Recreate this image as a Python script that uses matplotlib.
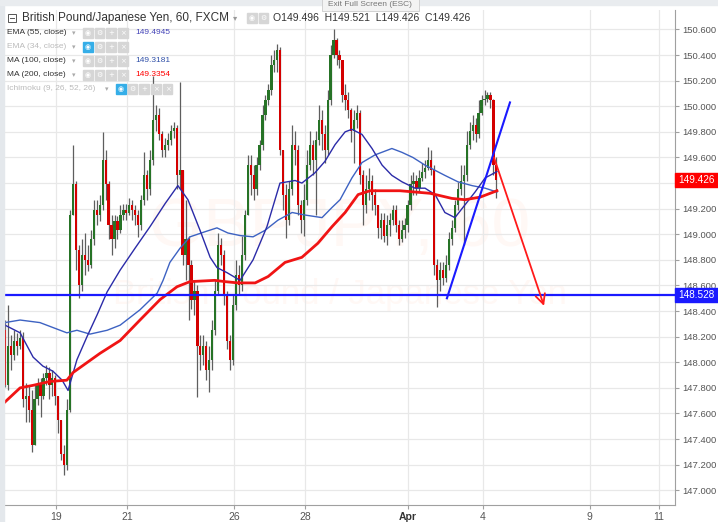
import numpy as np
import matplotlib
matplotlib.use('Agg')
from matplotlib import pyplot as plt
from matplotlib.patches import Rectangle
from matplotlib.transforms import blended_transform_factory

plt.rcParams['font.family'] = ['Liberation Sans', 'DejaVu Sans']

# GBPJPY, 2h candles (open of each bar = previous close)
open0 = 148.25
close = [
    147.82, 148.13, 148.06, 148.17, 148.13, 148.19, 147.71, 147.74, 147.63, 147.35,
    147.71, 147.82, 147.74, 147.88, 147.92, 147.82, 147.88, 147.74, 147.55, 147.28,
    147.20, 147.63, 149.15, 149.39, 148.88, 148.60, 148.84, 148.80, 148.76, 148.96,
    149.19, 149.15, 149.23, 149.58, 149.39, 149.07, 148.96, 149.10, 149.03, 149.15,
    149.19, 149.17, 149.23, 149.19, 149.15, 149.07, 149.27, 149.46, 149.35, 149.58,
    149.89, 149.93, 149.78, 149.66, 149.70, 149.74, 149.81, 149.83, 149.46, 149.50,
    148.84, 148.96, 148.76, 148.49, 148.56, 148.13, 148.06, 148.13, 147.94, 148.02,
    148.25, 148.56, 148.92, 148.84, 148.53, 148.17, 148.02, 148.45, 148.68, 148.60,
    148.84, 149.15, 149.54, 149.46, 149.35, 149.54, 149.70, 149.93, 150.05, 150.13,
    150.32, 150.36, 150.44, 149.66, 149.31, 149.11, 149.35, 149.70, 149.66, 149.23,
    149.11, 149.27, 149.54, 149.70, 149.58, 149.74, 149.89, 149.78, 149.66, 150.05,
    150.40, 150.52, 150.40, 150.36, 150.09, 150.05, 149.97, 149.81, 149.89, 149.95,
    149.46, 149.23, 149.35, 149.42, 149.31, 149.23, 149.05, 149.11, 148.99, 149.07,
    149.11, 149.19, 149.07, 148.96, 149.03, 149.07, 149.23, 149.39, 149.42, 149.36,
    149.44, 149.49, 149.52, 149.58, 149.50, 148.76, 148.64, 148.72, 148.66, 148.76,
    148.96, 149.05, 149.23, 149.35, 149.42, 149.46, 149.70, 149.81, 149.85, 149.78,
    149.95, 150.05, 150.06, 150.09, 150.05, 149.54, 149.426]
high = [
    148.33, 148.45, 148.21, 148.25, 148.23, 148.25, 148.24, 147.84, 147.82, 147.78,
    147.82, 147.88, 147.88, 147.92, 147.98, 147.96, 147.94, 147.90, 147.74, 147.55,
    147.35, 147.71, 149.19, 149.70, 149.42, 148.92, 148.96, 149.01, 148.92, 149.03,
    149.27, 149.27, 149.31, 149.80, 149.66, 149.42, 149.15, 149.15, 149.14, 149.23,
    149.24, 149.24, 149.28, 149.27, 149.23, 149.19, 149.31, 149.64, 149.50, 149.66,
    150.24, 150.01, 149.99, 149.81, 149.75, 149.79, 149.85, 149.88, 149.85, 150.19,
    149.50, 149.27, 148.99, 148.80, 148.64, 148.60, 148.21, 148.21, 148.17, 148.13,
    148.33, 148.64, 149.01, 148.97, 148.88, 148.56, 148.21, 148.53, 148.80, 148.76,
    148.99, 149.19, 149.62, 149.62, 149.54, 149.60, 149.74, 150.01, 150.09, 150.17,
    150.40, 150.44, 150.49, 150.46, 149.66, 149.39, 149.42, 149.85, 149.81, 149.70,
    149.27, 149.39, 149.66, 149.81, 149.74, 149.81, 150.01, 149.97, 149.85, 150.13,
    150.48, 150.60, 150.53, 150.44, 150.36, 150.17, 150.11, 149.99, 149.97, 150.01,
    149.97, 149.50, 149.46, 149.52, 149.46, 149.35, 149.23, 149.17, 149.17, 149.15,
    149.17, 149.23, 149.23, 149.11, 149.11, 149.13, 149.27, 149.46, 149.49, 149.46,
    149.50, 149.56, 149.58, 149.68, 149.66, 149.54, 148.81, 148.78, 148.78, 148.84,
    149.02, 149.11, 149.27, 149.41, 149.54, 149.54, 149.81, 149.88, 149.93, 149.91,
    150.05, 150.09, 150.13, 150.11, 150.11, 150.06, 149.60]
low = [
    147.81, 147.78, 147.94, 148.02, 148.06, 148.10, 147.65, 147.53, 147.53, 147.30,
    147.35, 147.67, 147.57, 147.71, 147.82, 147.71, 147.74, 147.67, 147.45, 147.24,
    147.12, 147.16, 147.61, 149.15, 148.72, 148.50, 148.56, 148.68, 148.71, 148.74,
    148.92, 149.07, 149.10, 149.19, 149.27, 148.96, 148.84, 148.89, 148.96, 149.01,
    149.11, 149.11, 149.15, 149.11, 149.07, 148.98, 149.03, 149.23, 149.27, 149.31,
    149.54, 149.81, 149.74, 149.60, 149.60, 149.66, 149.70, 149.75, 149.35, 149.35,
    148.76, 148.64, 148.33, 148.42, 148.37, 147.73, 147.94, 147.98, 147.86, 147.77,
    147.94, 148.21, 148.53, 148.76, 148.45, 148.10, 147.94, 147.98, 148.41, 148.53,
    148.56, 148.80, 149.15, 149.31, 149.27, 149.31, 149.50, 149.66, 149.89, 150.01,
    150.09, 150.27, 150.27, 149.62, 149.19, 148.97, 149.07, 149.31, 149.54, 149.15,
    149.01, 148.99, 149.23, 149.50, 149.46, 149.15, 149.70, 149.66, 149.56, 149.62,
    150.01, 150.38, 150.32, 150.30, 150.03, 149.97, 149.91, 149.72, 149.56, 149.83,
    149.39, 149.07, 149.17, 149.27, 149.19, 149.15, 148.97, 148.96, 148.94, 148.92,
    148.99, 149.07, 149.02, 148.92, 148.94, 148.97, 149.02, 149.19, 149.31, 149.31,
    149.33, 149.42, 149.44, 149.50, 149.46, 148.68, 148.43, 148.56, 148.60, 148.63,
    148.72, 148.92, 149.02, 149.19, 149.31, 148.92, 149.42, 149.67, 149.74, 149.72,
    149.75, 149.93, 150.01, 150.03, 149.99, 149.46, 149.28]

# moving averages (bar position, price)
ema55_x = [0, 5.1, 9.5, 12.8, 16.2, 19.3, 21.3, 24.3, 27.7, 31.1, 34.5, 38.9, 43.9, 49.0,
           54.1, 58.4, 61.8, 65.9, 69.3, 71.6, 75.0, 79.4, 83.8, 88.5, 92.9, 98.0, 100.3,
           104.7, 108.1, 111.5, 114.9, 117.2, 120.6, 124.0, 127.4, 130.7, 134.1, 138.5,
           141.9, 145.3, 148.6, 152.0, 155.4, 158.8, 162.2, 166.2]
ema55_y = [148.29, 148.23, 148.04, 147.97, 147.93, 147.86, 147.78, 148.02, 148.20, 148.37,
           148.55, 148.72, 148.89, 149.06, 149.24, 149.38, 149.27, 149.03, 148.82, 148.74,
           148.70, 148.64, 148.80, 149.06, 149.40, 149.42, 149.40, 149.48, 149.57, 149.70,
           149.80, 149.82, 149.78, 149.67, 149.54, 149.46, 149.41, 149.36, 149.36, 149.31,
           149.17, 149.13, 149.23, 149.33, 149.44, 149.49]
ma100_x = [0, 5.1, 11.8, 20.9, 24.3, 28.7, 34.5, 38.9, 45.6, 51.4, 53.4, 55.7, 59.1, 62.5,
           67.6, 71.6, 75.3, 79.4, 83.8, 87.8, 92.2, 97.0, 101.4, 107.1, 110.5, 113.2,
           117.2, 120.6, 125.0, 130.7, 134.1, 137.8, 141.9, 148.6, 153.0, 157.8, 162.2, 166.2]
ma100_y = [148.31, 148.33, 148.31, 148.23, 148.25, 148.22, 148.25, 148.29, 148.41, 148.54,
           148.64, 148.78, 148.89, 148.98, 149.02, 149.05, 149.01, 148.99, 148.98, 149.03,
           149.11, 149.17, 149.15, 149.13, 149.21, 149.27, 149.44, 149.56, 149.62, 149.67,
           149.64, 149.60, 149.54, 149.46, 149.41, 149.38, 149.36, 149.33]
ma200_x = [0, 5.1, 9.5, 15.2, 20.9, 23.0, 32.1, 38.9, 45.6, 52.4, 58.1, 62.5, 70.9, 74.3,
           78.7, 84.5, 88.9, 94.6, 100.3, 105.7, 110.5, 114.9, 119.3, 123.3, 133.4, 143.6,
           151.0, 155.4, 160.5, 166.2]
ma200_y = [147.69, 147.80, 147.82, 147.85, 147.86, 147.92, 148.07, 148.17, 148.33, 148.49,
           148.59, 148.63, 148.64, 148.63, 148.62, 148.62, 148.67, 148.78, 148.82, 148.93,
           149.06, 149.17, 149.31, 149.34, 149.34, 149.32, 149.28, 149.27, 149.29, 149.34]

support = 148.528
last_price = 149.426
trend_x = [149.3, 170.6]
trend_y = [148.50, 150.03]
arrow_from = (164.9, 149.62)
arrow_to = (182.4, 148.42)

tick_pos = [17.3, 41.3, 77.5, 101.5, 136.0, 161.5, 197.5, 221.0]
tick_lab = ['19', '21', '26', '28', 'Apr', '4', '9', '11']
price_ticks = np.round(np.arange(147.0, 150.61, 0.2), 1)

W, H = 718, 522
fig = plt.figure(figsize=(W / 100, H / 100), dpi=100)
fig.patch.set_facecolor('white')

ax = fig.add_axes([4 / W, 1 - 505 / H, 671 / W, 495 / H])
ax.set_xlim(-0.34, 226.35)
ax.set_ylim(146.885, 150.752)

# watermark
ax.text(113.2, 149.05, 'GBPJPY, 60', fontsize=50, color='#fff8f5', ha='center', va='center', zorder=0)
ax.text(113.2, 148.53, 'British Pound / Japanese Yen', fontsize=25, color='#fff8f5',
        ha='center', va='center', zorder=0)

ax.set_yticks(price_ticks)
# 149.400 sits under the last-price box
ax.set_yticklabels(['' if abs(p - 149.4) < 1e-6 else '%.3f' % p for p in price_ticks])
ax.set_xticks(tick_pos)
ax.set_xticklabels(tick_lab)
ax.grid(color='#e8e8e8', lw=0.9, zorder=0.5)
ax.set_axisbelow(True)
ax.yaxis.tick_right()
for s in ['left', 'top']:
    ax.spines[s].set_visible(False)
for s in ['right', 'bottom']:
    ax.spines[s].set_color('#a0a0a0')
ax.tick_params(axis='y', colors='#a0a0a0', labelcolor='#555555', labelsize=6.8, length=3, pad=2)
ax.tick_params(axis='x', colors='#a0a0a0', labelcolor='#555555', labelsize=7.5, length=3, pad=2)
for lbl in ax.get_xticklabels():
    if lbl.get_text() == 'Apr':
        lbl.set_fontweight('bold')
        lbl.set_color('#333333')

# candles
c = np.array(close)
o = np.array([open0] + close[:-1])
hi = np.maximum(np.array(high), np.maximum(o, c))
lo = np.minimum(np.array(low), np.minimum(o, c))
x = np.arange(len(c))
up = c >= o
ax.vlines(x, lo, hi, color='#5e5e5e', lw=0.9, zorder=2)
body_h = np.maximum(np.abs(c - o), 0.008)
ax.bar(x[up], body_h[up], bottom=o[up], width=0.75, color='#267326', zorder=3, linewidth=0)
ax.bar(x[~up], body_h[~up], bottom=c[~up], width=0.75, color='#d40000', zorder=3, linewidth=0)

# moving averages
ax.plot(ma100_x, ma100_y, color='#3d62c2', lw=1.0, zorder=4, solid_joinstyle='round')
ax.plot(ema55_x, ema55_y, color='#2b2ba8', lw=1.0, zorder=4, solid_joinstyle='round')
ax.plot(ma200_x, ma200_y, color='#f01414', lw=2.0, zorder=4, solid_joinstyle='round')

# drawings
ax.axhline(support, color='#1a1aff', lw=1.6, zorder=5)
ax.plot(trend_x, trend_y, color='#1a1aff', lw=1.5, zorder=5)
ax.annotate('', xy=arrow_to, xytext=arrow_from,
            arrowprops=dict(arrowstyle='->,head_length=0.7,head_width=0.35', color='#ff1a1a', lw=1.3),
            zorder=5)

# price labels on the scale
tr = blended_transform_factory(ax.transAxes, ax.transData)
bw = 43 / 671
for val, col in [(last_price, '#ff0000'), (support, '#1a1aff')]:
    ax.add_patch(Rectangle((1.0, val - 0.055), bw, 0.11, transform=tr, color=col,
                           clip_on=False, zorder=6))
    ax.text(1.0 + bw / 2, val, '%.3f' % val, transform=tr, color='white', fontsize=7.2,
            ha='center', va='center', zorder=7, clip_on=False)

# header overlay in pixel coordinates
ov = fig.add_axes([0, 0, 1, 1])
ov.set_xlim(0, W)
ov.set_ylim(H, 0)
ov.axis('off')
ov.patch.set_alpha(0)
ov.add_patch(Rectangle((0, 0), 4, H, color='#e4e8ec'))
ov.add_patch(Rectangle((0, 0), W, 5, color='#e9ecef'))
ov.add_patch(Rectangle((322, -1), 97, 12, facecolor='#f3f3f3', edgecolor='#cccccc', lw=0.6))
ov.text(370, 5, 'Exit Full Screen (ESC)', fontsize=6, color='#777777', ha='center', va='center')


def icons(x0, yc, n, first_blue=False):
    marks = ['◉', '⚙', '+', '×', '×']
    for k in range(n):
        col = '#35aee8' if (first_blue and k == 0) else '#d6d6d6'
        ov.add_patch(Rectangle((x0 + k * 11.7, yc - 4.7), 9.5, 9.5, color=col))
        ov.text(x0 + k * 11.7 + 4.75, yc, marks[k], fontsize=5, color='white',
                ha='center', va='center', family=['DejaVu Sans'])


# title line
ov.add_patch(Rectangle((8, 14), 8, 8, facecolor='white', edgecolor='#555555', lw=0.7))
ov.plot([10, 14], [18, 18], color='#555555', lw=0.7)
ov.text(22, 18, 'British Pound/Japanese Yen, 60, FXCM', fontsize=8.5, color='#333333', va='center')
ov.text(233, 18, '▾', fontsize=6, color='#999999', va='center', family=['DejaVu Sans'])
icons(247, 18, 2)
ov.text(273, 18, 'O149.496  H149.521  L149.426  C149.426', fontsize=7.5, color='#333333', va='center')

rows = [
    ('EMA (55, close)', 33, '149.4945', '#4343b8', 72, 83, 4, False, '#333333'),
    ('EMA (34, close)', 47, '', '#000000', 72, 83, 4, True, '#bbbbbb'),
    ('MA (100, close)', 61, '149.3181', '#3050a8', 72, 83, 4, False, '#333333'),
    ('MA (200, close)', 75, '149.3354', '#ff0000', 72, 83, 4, False, '#333333'),
    ('Ichimoku (9, 26, 52, 26)', 89, '', '#000000', 105, 116, 5, True, '#bbbbbb'),
]
for name, yc, val, vcol, ax_, ix, n, blue, tcol in rows:
    ov.text(7, yc, name, fontsize=6, color=tcol, va='center')
    ov.text(ax_, yc, '▾', fontsize=5, color='#aaaaaa', va='center', family=['DejaVu Sans'])
    icons(ix, yc, n, first_blue=blue)
    if val:
        ov.text(135, yc, val, fontsize=6, color=vcol, va='center')

fig.savefig('out.png', dpi=100)
